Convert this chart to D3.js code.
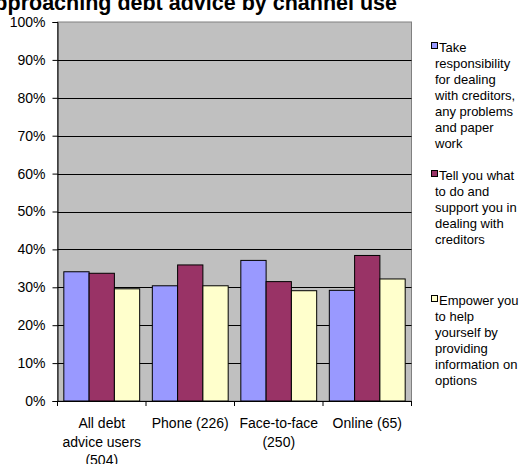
<!DOCTYPE html>
<html><head><meta charset="utf-8">
<script src="https://cdn.jsdelivr.net/npm/d3@7"></script>
<style>
html,body{margin:0;padding:0;background:#fff;overflow:hidden;}
svg{display:block;font-family:Arial,"Liberation Sans",sans-serif;}
</style>
</head><body>
<svg id="c" width="529" height="464"></svg>
<script>
const title = "Approaching debt advice by channel use";
const categories = [["All debt","advice users","(504)"],["Phone (226)"],["Face-to-face","(250)"],["Online (65)"]];
const seriesNames = [
  ["Take","responsibility","for dealing","with creditors,","any problems","and paper","work"],
  ["Tell you what","to do and","support you in","dealing with","creditors"],
  ["Empower you","to help","yourself by","providing","information on","options"]
];
const seriesColors = ["#9999FF","#993366","#FFFFCC"];
const takeResp = [34.1, 30.4, 37.1, 29.2];
const tellYou = [33.7, 35.9, 31.5, 38.4];
const empower = [29.6, 30.4, 29.1, 32.2];
const series = [takeResp, tellYou, empower];
const yTicks = [0,10,20,30,40,50,60,70,80,90,100];

const svg = d3.select("#c");
const L = 57.5, R = 411.5, T = 22, B = 401;
const x = d3.scaleBand().domain(d3.range(categories.length)).range([L, R]).paddingInner(0).paddingOuter(0);
const xs = d3.scaleBand().domain(d3.range(series.length)).range([0, x.bandwidth()]).paddingInner(0).paddingOuter(0.25);
const y = d3.scaleLinear().domain([0,100]).range([B, T]);

// title
svg.append("text").attr("x", 397).attr("y", 10).attr("text-anchor","end")
  .attr("font-size", 21.5).attr("font-weight","bold").attr("fill","#000").text(title);

// plot background
svg.append("rect").attr("x", L).attr("y", T).attr("width", R-L).attr("height", B-T)
  .attr("fill","#C0C0C0").attr("stroke","#808080").attr("stroke-width",1);

// gridlines
svg.append("g").selectAll("line").data(yTicks.filter(d=>d>0 && d<100)).join("line")
  .attr("x1", L).attr("x2", R).attr("y1", d=>Math.round(y(d))+0.5).attr("y2", d=>Math.round(y(d))+0.5)
  .attr("stroke","#000").attr("stroke-width",1);

// bars
series.forEach((vals, si) => {
  svg.append("g").selectAll("rect").data(vals).join("rect")
    .attr("x", (d,i)=> x(i) + xs(si))
    .attr("y", d=> y(d))
    .attr("width", xs.bandwidth())
    .attr("height", d=> y(0)-y(d))
    .attr("fill", seriesColors[si]).attr("stroke","#000").attr("stroke-width",1);
});

// y axis
const yAxis = d3.axisLeft(y).tickValues(yTicks).tickFormat(d=>d+"%").tickSize(5).tickPadding(7);
const gy = svg.append("g").attr("transform",`translate(${L},0)`).call(yAxis);
gy.selectAll("text").attr("font-size",14).attr("font-family","Arial,'Liberation Sans',sans-serif").attr("fill","#000");
gy.selectAll("line,path").attr("stroke","#000");

// x axis
svg.append("line").attr("x1",L).attr("x2",R).attr("y1",B+0.5).attr("y2",B+0.5).attr("stroke","#000");
const bounds = d3.range(categories.length+1).map(i => i < categories.length ? x(i) : R);
svg.append("g").selectAll("line").data(bounds).join("line")
  .attr("x1", d=>d).attr("x2", d=>d).attr("y1", B).attr("y2", B+5).attr("stroke","#000");
const cl = svg.append("g");
categories.forEach((lines, i) => {
  const t = cl.append("text").attr("text-anchor","middle").attr("font-size",14).attr("fill","#000");
  lines.forEach((ln, j) => {
    t.append("tspan").attr("x", x(i)+x.bandwidth()/2).attr("y", 428 + j*18.5).text(ln);
  });
});

// legend
const legY = [47, 175, 300];
seriesNames.forEach((lines, si) => {
  const g = svg.append("g");
  g.append("rect").attr("x", 431.5).attr("y", legY[si]-4.5).attr("width",6).attr("height",6)
    .attr("fill", seriesColors[si]).attr("stroke","#000").attr("stroke-width",1);
  lines.forEach((ln, j) => {
    g.append("text").attr("x", j===0 ? 439 : 435).attr("y", legY[si] + 4.5 + j*16)
      .attr("font-size",13).attr("fill","#000").text(ln);
  });
});
</script>
</body></html>
